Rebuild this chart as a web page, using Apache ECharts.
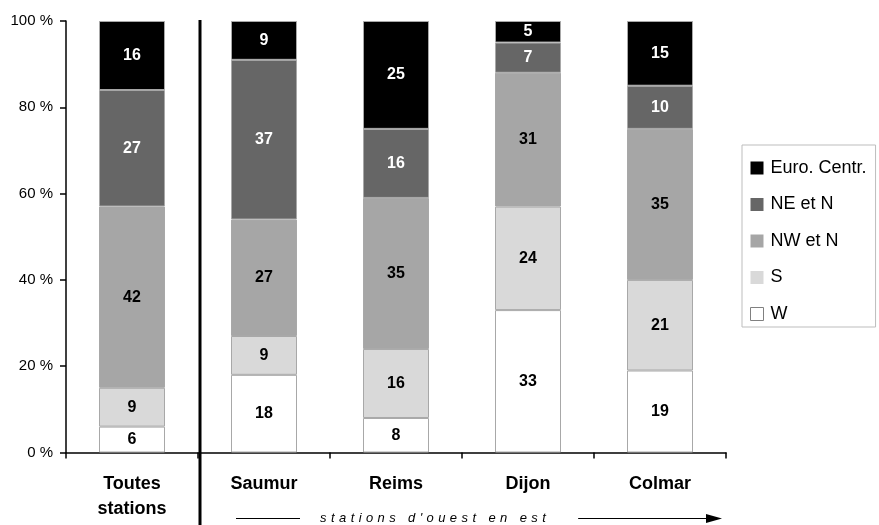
<!DOCTYPE html>
<html><head><meta charset="utf-8">
<script src="https://cdn.jsdelivr.net/npm/echarts@6/dist/echarts.min.js"></script>
<style>html,body{margin:0;padding:0;background:#fff}#c{width:879px;height:525px}</style>
</head><body><div id="c"></div>
<script>
const categories = ['Toutes\nstations', 'Saumur', 'Reims', 'Dijon', 'Colmar'];
const W = [6, 18, 8, 33, 19];
const S = [9, 9, 16, 24, 21];
const NW = [42, 27, 35, 31, 35];
const NE = [27, 37, 16, 7, 10];
const EURO = [16, 9, 25, 5, 15];
const yTicks = [0, 20, 40, 60, 80, 100];
const legendOrder = ['Euro. Centr.', 'NE et N', 'NW et N', 'S', 'W'];
const arrowText = "stations d'ouest en est";

const FONT = 'Liberation Sans, Arial, sans-serif';
const chart = echarts.init(document.getElementById('c'), null, {renderer: 'canvas'});

function mk(name, data, color, labelColor) {
  return {
    name, type: 'bar', stack: 'all', data, barWidth: '50%',
    itemStyle: {color, borderColor: '#a8a8a8', borderWidth: 1},
    label: {show: true, position: 'inside', color: labelColor, fontWeight: 'bold',
            fontSize: 16, fontFamily: FONT},
    emphasis: {disabled: true}
  };
}

const legendData = legendOrder.map(n => n === 'W'
  ? {name: n, itemStyle: {color: '#fff', borderColor: '#808080', borderWidth: 1}}
  : {name: n, itemStyle: {borderWidth: 0}});

chart.setOption({
  animation: false,
  textStyle: {fontFamily: FONT},
  grid: {left: 66, right: 153, top: 21, bottom: 72.5, containLabel: false},
  xAxis: {
    type: 'category', data: categories,
    axisLine: {lineStyle: {color: '#000', width: 1.5}},
    axisTick: {show: true, length: 6, interval: 0, lineStyle: {color: '#000', width: 1.5}},
    axisLabel: {interval: 0, color: '#000', fontWeight: 'bold', fontSize: 18,
                lineHeight: 25, margin: 19, fontFamily: FONT}
  },
  yAxis: {
    type: 'value', min: yTicks[0], max: yTicks[yTicks.length - 1], interval: 20,
    axisLine: {show: true, lineStyle: {color: '#000', width: 1.5}},
    axisTick: {show: true, length: 6, lineStyle: {color: '#000', width: 1.5}},
    splitLine: {show: false},
    axisLabel: {formatter: '{value} %', color: '#000', fontSize: 15, margin: 13, fontFamily: FONT}
  },
  legend: {
    data: legendData, orient: 'vertical', left: 742, top: 145,
    padding: [14, 9, 4, 8], itemGap: 18.5,
    itemWidth: 13, itemHeight: 13, icon: 'rect',
    borderColor: '#bdbdbd', borderWidth: 1,
    textStyle: {fontSize: 18, color: '#000', fontFamily: FONT, padding: [0, 0, 0, 2]}
  },
  series: [
    mk('W', W, '#ffffff', '#000'),
    mk('S', S, '#d9d9d9', '#000'),
    mk('NW et N', NW, '#a6a6a6', '#000'),
    mk('NE et N', NE, '#666666', '#fff'),
    mk('Euro. Centr.', EURO, '#000000', '#fff')
  ]
});

// separator + arrow annotation positioned from axis pixels
const p0 = chart.convertToPixel({xAxisIndex: 0}, 0);
const p1 = chart.convertToPixel({xAxisIndex: 0}, 1);
const p4 = chart.convertToPixel({xAxisIndex: 0}, 4);
const step = p1 - p0;
const sepX = (p0 + p1) / 2 + 2;
const yTop = chart.convertToPixel({yAxisIndex: 0}, 100);
const ay = 518.5;
const textCenter = p1 + step * 1.28;
// letter-spaced text via rich tokens (one token per character)
const richText = arrowText.split('').map(ch => '{c|' + ch + '}').join('');
chart.setOption({
  graphic: [
    {type: 'line', shape: {x1: sepX, y1: yTop - 1, x2: sepX, y2: 525}, style: {stroke: '#000', lineWidth: 3}, silent: true},
    {type: 'line', shape: {x1: p1 - 28, y1: ay, x2: p1 + 36, y2: ay}, style: {stroke: '#000', lineWidth: 1.2}, silent: true},
    {type: 'text', x: textCenter, y: ay, silent: true,
     style: {text: richText, align: 'center', verticalAlign: 'middle',
             rich: {c: {fontStyle: 'italic', fontSize: 13, fontFamily: FONT, fill: '#000', padding: [0, 2.2, 0, 2.2]}}}},
    {type: 'line', shape: {x1: p4 - step * 0.62, y1: ay, x2: p4 + 50, y2: ay}, style: {stroke: '#000', lineWidth: 1.2}, silent: true},
    {type: 'polygon', shape: {points: [[p4 + 62, ay], [p4 + 46, ay - 4.5], [p4 + 46, ay + 4.5]]}, style: {fill: '#000'}, silent: true}
  ]
});
</script></body></html>
